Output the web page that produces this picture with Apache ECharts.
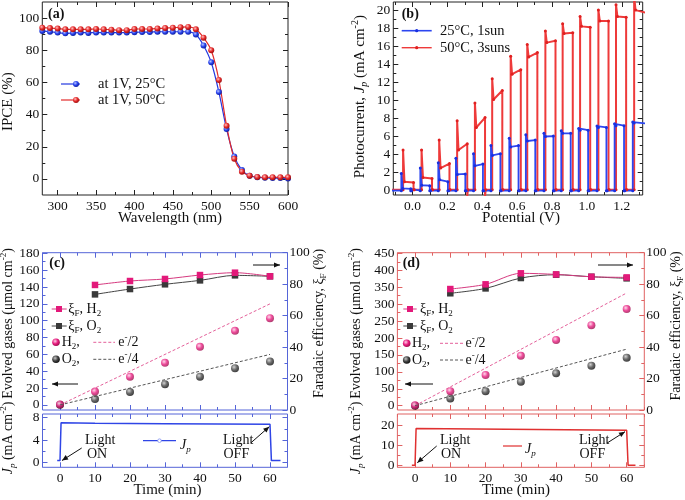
<!DOCTYPE html>
<html><head><meta charset="utf-8">
<script src="https://cdn.jsdelivr.net/npm/echarts@6/dist/echarts.min.js"></script>
<style>html,body{margin:0;padding:0;background:#fff}#c{width:685px;height:500px}</style>
</head><body><div id="c"></div>
<script>
// ---------- (a) IPCE ----------
const wavelength = [280,290,300,310,320,330,340,350,360,370,380,390,400,410,420,430,440,450,460,470,480,490,500,510,520,530,540,550,560,570,580,590,600];
const ipce25C = [92,91.5,91,90.5,90.8,91,90.8,91,91,91,91,91,91.2,91.3,91.3,91.5,91.5,91.5,91.5,91.5,89.8,83,72.5,54,31,14,5.5,2,1,0.7,0.5,0.5,0.3];
const ipce50C = [94,93.8,93.5,93,93,93,93,93.2,93,92.8,92.5,92.5,93.2,93.2,93.2,93.5,93.8,94,94.3,94.5,93,87.8,80,61.5,33,12.5,4.5,2,1.2,1,1,1,1];
const aXTicks = [300,350,400,450,500,550,600];
const aXMinor = [325,375,425,475,525,575];
const aYTicks = [0,20,40,60,80,100];
const aYMinor = [10,30,50,70,90];

// ---------- (b) chopped photocurrent ----------
const redOn    = [-0.054,0.052,0.153,0.256,0.358,0.457,0.563,0.658,0.762,0.861,0.961,1.066,1.167,1.271];
const redOff   = [0.006,0.112,0.212,0.314,0.416,0.515,0.621,0.716,0.820,0.919,1.019,1.124,1.225,1.340];
const redSpike = [4.5,4.5,5.6,7.75,9.7,12.4,14.9,16.2,17.7,18.5,19.3,20.0,20.6,21.5];
const redDip   = [1.0,1.45,2.5,4.5,7.0,10.1,12.9,14.8,16.4,17.4,18.2,18.8,19.3,20.0];
const redEnd   = [0.9,1.35,3.0,5.2,8.1,11.1,13.4,15.3,16.6,17.5,18.1,18.8,19.2,19.7];
const redDark  = [0.1,0.1,0.1,0.1,0.1,0.1,0.1,0.1,0.1,0.1,0.1,0.1,0.1,0.1];
const redOffLow= [0.1,0.1,0.1,-0.6,-0.6,0.1,0.1,0.1,0.1,0.1,0.1,0.1,0.1,0.1];
const blueOn   = [-0.064,0.045,0.148,0.249,0.350,0.450,0.555,0.650,0.754,0.853,0.953,1.058,1.159,1.263];
const blueOff  = [-0.010,0.099,0.203,0.303,0.404,0.504,0.608,0.704,0.808,0.907,1.007,1.112,1.213,1.340];
const blueSpike= [1.9,2.5,3.1,3.6,4.1,5.0,5.8,6.2,6.35,6.65,6.9,7.15,7.4,7.6];
const blueDip  = [0.25,0.6,1.2,1.8,2.75,3.9,4.85,5.5,6.0,6.35,6.7,7.0,7.2,7.5];
const blueEnd  = [0.2,0.55,1.0,1.85,2.95,4.1,5.0,5.6,6.05,6.35,6.7,7.0,7.2,7.45];
const blueDark = [0,0,0,0,0,0,0,0,0,0,0,0,0,0];
const bXTicks = [0,0.2,0.4,0.6,0.8,1.0,1.2];
const bXMinor = [-0.1,0.1,0.3,0.5,0.7,0.9,1.1,1.3];
const bYTicks = [0,2,4,6,8,10,12,14,16,18,20];
const bYMinor = [1,3,5,7,9,11,13,15,17,19];

// ---------- (c) 25°C 1 sun ----------
const cTime = [0,10,20,30,40,50,60];
const cH2 = [0.5,16,33.5,50,69,88,103];
const cO2 = [0.3,7,15.5,24.5,33.5,43.5,51.5];
const cFeTime = [10,20,30,40,50,60];
const cFeH2 = [79.5,82,83.3,85.8,87.3,85];
const cFeO2 = [73.5,76.9,79.9,82.4,85.6,85];
const cTheoTime = [0,60];
const cTheoH2 = [0,120];
const cTheoO2 = [0,60];
const cJpTime = [-0.8,0,0.3,10,30,60,60.4,63];
const cJp = [0.3,0.3,7.1,7.0,6.9,6.8,0.3,0.3];
const cLeftTicks = [0,20,40,60,80,100,120,140,160,180];
const cLeftMinor = [10,30,50,70,90,110,130,150,170];
const cRightTicks = [0,20,40,60,80,100];
const cRightMinor = [10,30,50,70,90];
const cJpTicks = [0,4,8];
const cJpMinor = [2,6];

// ---------- (d) 50°C 3 suns ----------
const dTime = [0,10,20,30,40,50,60];
const dH2 = [1,43,90.5,147.5,194,238,285.5];
const dO2 = [0,21.5,43,71,95.5,118,141.8];
const dFeTime = [10,20,30,40,50,60];
const dFeH2 = [76.9,79.9,86.9,86.2,84.7,84.3];
const dFeO2 = [74.2,77.3,83.9,86.0,84.7,83.7];
const dTheoTime = [0,60];
const dTheoH2 = [0,333];
const dTheoO2 = [0,167];
const dJpTime = [-0.9,0,0.3,60,60.4,62.5];
const dJp = [0,0,18.3,17.4,0,0];
const dLeftTicks = [0,50,100,150,200,250,300,350,400,450];
const dLeftMinor = [25,75,125,175,225,275,325,375,425];
const dRightTicks = [0,20,40,60,80,100];
const dRightMinor = [10,30,50,70,90];
const dJpTicks = [0,10,20];
const dJpMinor = [5,15];

const timeTicks = [0,10,20,30,40,50,60];
const timeMinor = [-5,5,15,25,35,45,55,65];

// ---------- build ----------
const F = '"Liberation Serif","DejaVu Serif",serif';
const pair = (xs, ys) => xs.map((x, i) => [x, ys[i]]);
function chop(on, off, spike, dip, end, dark, offLow) {
  const pts = [[-0.12, dark[0]]];
  for (let k = 0; k < on.length; k++) {
    pts.push([on[k], dark[k]]);
    pts.push([on[k], spike[k]]);
    pts.push([on[k] + 0.008, dip[k]]);
    pts.push([off[k], end[k]]);
    pts.push([off[k], offLow[k]]);
    pts.push([off[k] + 0.004, dark[k]]);
  }
  return pts;
}

const BLUE = '#2238e0', RED = '#e22a2a', MAG = '#e3197a', DARK = '#3a3a3a';
const CFRAME = '#5565d8', DFRAME = '#e06262';

const grids = [
  {left: 42.3, top: 2, width: 245.7, height: 193},   // a
  {left: 393.3, top: 2, width: 249.4, height: 193},  // b
  {left: 42.5, top: 252.7, width: 245, height: 157.3}, // c top
  {left: 42.5, top: 414, width: 245, height: 53.3},  // c bottom
  {left: 397.4, top: 252.7, width: 246.9, height: 157.3}, // d top
  {left: 397.4, top: 414, width: 246.9, height: 53.3}  // d bottom
].map((g, i) => Object.assign(g, {
  show: true, backgroundColor: 'transparent', borderWidth: 1,
  borderColor: i < 2 ? '#222' : (i < 4 ? CFRAME : DFRAME),
  containLabel: false, outerBoundsMode: 'none'
}));

const xAxes = [], yAxes = [];
function axisSet(list, grid, min, max, major, minor, pos, mirror, color, showLabels, fmt, margin) {
  const base = {type: 'value', gridIndex: grid, min, max, splitLine: {show: false},
    axisLine: {show: false, onZero: false}};
  const lab = {show: showLabels, customValues: major, color: '#111', fontSize: 13.5, fontFamily: F,
    margin: margin, formatter: fmt || (v => String(v))};
  list.push(Object.assign({}, base, {position: pos,
    axisTick: {show: true, inside: true, length: 5, customValues: major, lineStyle: {color, width: 1}},
    axisLabel: lab}));
  const main = list.length - 1;
  list.push(Object.assign({}, base, {position: pos,
    axisTick: {show: true, inside: true, length: 3, customValues: minor, lineStyle: {color, width: 1}},
    axisLabel: {show: false}}));
  if (mirror) {
    list.push(Object.assign({}, base, {position: mirror,
      axisTick: {show: true, inside: true, length: 5, customValues: major, lineStyle: {color, width: 1}},
      axisLabel: {show: false}}));
    list.push(Object.assign({}, base, {position: mirror,
      axisTick: {show: true, inside: true, length: 3, customValues: minor, lineStyle: {color, width: 1}},
      axisLabel: {show: false}}));
  }
  return main;
}

const axA = axisSet(xAxes, 0, 280, 600, aXTicks, aXMinor, 'bottom', 'top', '#222', true, null, 4);
const ayA = axisSet(yAxes, 0, -10, 110, aYTicks, aYMinor, 'left', 'right', '#222', true, null, 3);
const axB = axisSet(xAxes, 1, -0.11, 1.32, bXTicks, bXMinor, 'bottom', 'top', '#222', true, v => v.toFixed(1), 4);
const ayB = axisSet(yAxes, 1, -0.48, 20.9, bYTicks, bYMinor, 'left', 'right', '#222', true, null, 3);
const axC = axisSet(xAxes, 2, -5, 65, timeTicks, timeMinor, 'bottom', 'top', CFRAME, false, null, 4);
const ayC = axisSet(yAxes, 2, -6, 180.7, cLeftTicks, cLeftMinor, 'left', null, CFRAME, true, null, 3);
const ayCr = axisSet(yAxes, 2, 0, 100, cRightTicks, cRightMinor, 'right', null, CFRAME, true, null, 2);
const axC2 = axisSet(xAxes, 3, -5, 65, timeTicks, timeMinor, 'bottom', 'top', CFRAME, true, null, 4);
const ayC2 = axisSet(yAxes, 3, -0.9, 8.66, cJpTicks, cJpMinor, 'left', 'right', CFRAME, true, null, 3);
const axD = axisSet(xAxes, 4, -5, 65, timeTicks, timeMinor, 'bottom', 'top', DFRAME, false, null, 4);
const ayD = axisSet(yAxes, 4, -12.7, 452, dLeftTicks, dLeftMinor, 'left', null, DFRAME, true, null, 3);
const ayDr = axisSet(yAxes, 4, 0, 100, dRightTicks, dRightMinor, 'right', null, DFRAME, true, null, 2);
const axD2 = axisSet(xAxes, 5, -5, 65, timeTicks, timeMinor, 'bottom', 'top', DFRAME, true, null, 4);
const ayD2 = axisSet(yAxes, 5, -1, 25.5, dJpTicks, dJpMinor, 'left', 'right', DFRAME, true, null, 3);

const sphere = (c0, c1, c2) => ({type: 'radial', x: 0.38, y: 0.35, r: 0.65,
  colorStops: [{offset: 0, color: c0}, {offset: 0.55, color: c1}, {offset: 1, color: c2}]});
const blueBall = sphere('#b8c4ff', '#2a44ee', '#1020a0');
const redBall = sphere('#ffc0c0', '#e62a2a', '#a01010');
const magBall = sphere('#ffd0e6', '#e81c80', '#a0104f');
const darkBall = sphere('#c8c8c8', '#444444', '#111111');

const series = [
  {type: 'line', xAxisIndex: axA, yAxisIndex: ayA, data: pair(wavelength, ipce25C), smooth: 0.25,
    symbol: 'circle', symbolSize: 6, lineStyle: {color: BLUE, width: 1.2}, itemStyle: {color: blueBall}},
  {type: 'line', xAxisIndex: axA, yAxisIndex: ayA, data: pair(wavelength, ipce50C), smooth: 0.25,
    symbol: 'circle', symbolSize: 6, lineStyle: {color: RED, width: 1.2}, itemStyle: {color: redBall}},
  {type: 'line', xAxisIndex: axB, yAxisIndex: ayB, data: chop(redOn, redOff, redSpike, redDip, redEnd, redDark, redOffLow),
    symbol: 'circle', symbolSize: 3, lineStyle: {color: '#ee3a3a', width: 2, join: 'round', cap: 'round'},
    itemStyle: {color: '#e02020', borderWidth: 0}, emphasis: {disabled: true}},
  {type: 'line', xAxisIndex: axB, yAxisIndex: ayB, data: chop(blueOn, blueOff, blueSpike, blueDip, blueEnd, blueDark, blueDark),
    symbol: 'circle', symbolSize: 3, lineStyle: {color: '#2c46f0', width: 1.8, join: 'round', cap: 'round'},
    itemStyle: {color: '#1a30e0', borderWidth: 0}, emphasis: {disabled: true}},
  // (c)
  {type: 'line', xAxisIndex: axC, yAxisIndex: ayC, data: pair(cTheoTime, cTheoH2), symbol: 'none',
    lineStyle: {color: '#e4609a', width: 1, type: [3, 2]}},
  {type: 'line', xAxisIndex: axC, yAxisIndex: ayC, data: pair(cTheoTime, cTheoO2), symbol: 'none',
    lineStyle: {color: '#555', width: 1, type: [3, 2]}},
  {type: 'scatter', xAxisIndex: axC, yAxisIndex: ayC, data: pair(cTime, cO2), symbolSize: 8, itemStyle: {color: darkBall}},
  {type: 'scatter', xAxisIndex: axC, yAxisIndex: ayC, data: pair(cTime, cH2), symbolSize: 8, itemStyle: {color: magBall}},
  {type: 'line', xAxisIndex: axC, yAxisIndex: ayCr, data: pair(cFeTime, cFeO2), smooth: 0.3, symbol: 'rect', symbolSize: 6.5,
    lineStyle: {color: '#444', width: 1}, itemStyle: {color: DARK}},
  {type: 'line', xAxisIndex: axC, yAxisIndex: ayCr, data: pair(cFeTime, cFeH2), smooth: 0.3, symbol: 'rect', symbolSize: 6.5,
    lineStyle: {color: '#d63a80', width: 1}, itemStyle: {color: MAG}},
  {type: 'line', xAxisIndex: axC2, yAxisIndex: ayC2, data: pair(cJpTime, cJp), symbol: 'none',
    lineStyle: {color: '#2f45e6', width: 1.5}},
  // (d)
  {type: 'line', xAxisIndex: axD, yAxisIndex: ayD, data: pair(dTheoTime, dTheoH2), symbol: 'none',
    lineStyle: {color: '#e4609a', width: 1, type: [3, 2]}},
  {type: 'line', xAxisIndex: axD, yAxisIndex: ayD, data: pair(dTheoTime, dTheoO2), symbol: 'none',
    lineStyle: {color: '#555', width: 1, type: [3, 2]}},
  {type: 'scatter', xAxisIndex: axD, yAxisIndex: ayD, data: pair(dTime, dO2), symbolSize: 8, itemStyle: {color: darkBall}},
  {type: 'scatter', xAxisIndex: axD, yAxisIndex: ayD, data: pair(dTime, dH2), symbolSize: 8, itemStyle: {color: magBall}},
  {type: 'line', xAxisIndex: axD, yAxisIndex: ayDr, data: pair(dFeTime, dFeO2), smooth: 0.3, symbol: 'rect', symbolSize: 6.5,
    lineStyle: {color: '#444', width: 1}, itemStyle: {color: DARK}},
  {type: 'line', xAxisIndex: axD, yAxisIndex: ayDr, data: pair(dFeTime, dFeH2), smooth: 0.3, symbol: 'rect', symbolSize: 6.5,
    lineStyle: {color: '#d63a80', width: 1}, itemStyle: {color: MAG}},
  {type: 'line', xAxisIndex: axD2, yAxisIndex: ayD2, data: pair(dJpTime, dJp), symbol: 'none',
    lineStyle: {color: '#e03030', width: 1.5}}
].map(s => Object.assign({animation: false, silent: true}, s));

// ---------- graphic text, legends, arrows ----------
const rich = (fs) => ({
  m: {fontSize: fs, fontFamily: F, lineHeight: fs + 4, color: '#111'},
  i: {fontSize: fs, fontFamily: F, fontStyle: 'italic', lineHeight: fs + 4, color: '#111'},
  s: {fontSize: fs - 5, fontFamily: F, lineHeight: fs - 5, verticalAlign: 'bottom', color: '#111'},
  si: {fontSize: fs - 5, fontFamily: F, fontStyle: 'italic', lineHeight: fs - 5, verticalAlign: 'bottom', color: '#111'},
  u: {fontSize: fs - 5, fontFamily: F, lineHeight: fs - 5, verticalAlign: 'top', color: '#111'}
});
const gfx = [];
function txt(x, y, text, o) {
  o = o || {};
  const fs = o.fs || 14;
  gfx.push({type: 'text', x, y, rotation: o.rot || 0, z: 100, silent: true,
    style: {text, fontFamily: F, fontSize: fs, fontWeight: o.bold ? 'bold' : 'normal', fill: '#111',
      align: o.align || 'left', verticalAlign: 'middle', textAlign: o.align || 'left', textVerticalAlign: 'middle',
      rich: rich(fs)}});
}
function seg(x1, y1, x2, y2, color, w, dash) {
  gfx.push({type: 'line', z: 100, silent: true, shape: {x1, y1, x2, y2},
    style: {stroke: color, lineWidth: w || 1, lineDash: dash || null}});
}
function dot(cx, cy, r, fill) {
  gfx.push({type: 'circle', z: 101, silent: true, shape: {cx, cy, r}, style: {fill}});
}
function sq(cx, cy, s, fill) {
  gfx.push({type: 'rect', z: 101, silent: true, shape: {x: cx - s / 2, y: cy - s / 2, width: s, height: s}, style: {fill}});
}
function arrow(x1, y1, x2, y2, color) {
  seg(x1, y1, x2, y2, color || '#111', 1);
  const a = Math.atan2(y2 - y1, x2 - x1), L = 6, W = 2.6;
  const bx = x2 - L * Math.cos(a), by = y2 - L * Math.sin(a);
  gfx.push({type: 'polygon', z: 101, silent: true, shape: {points: [[x2, y2],
    [bx + W * Math.sin(a), by - W * Math.cos(a)], [bx - W * Math.sin(a), by + W * Math.cos(a)]]},
    style: {fill: color || '#111'}});
}
const g = (c0, c1, c2) => new echarts.graphic.RadialGradient(0.38, 0.35, 0.65,
  [{offset: 0, color: c0}, {offset: 0.55, color: c1}, {offset: 1, color: c2}]);

// panel (a)
txt(48, 14, '(a)', {bold: true, fs: 14});
seg(61, 84, 80, 84, BLUE, 1.2); dot(76, 84, 3, g('#b8c4ff', '#2a44ee', '#1020a0'));
txt(98, 84, 'at 1V, 25°C', {fs: 14.5});
seg(61, 100, 80, 100, RED, 1.2); dot(76, 100, 3, g('#ffc0c0', '#e62a2a', '#a01010'));
txt(98, 100, 'at 1V, 50°C', {fs: 14.5});
txt(8.5, 101.7, 'IPCE (%)', {rot: Math.PI / 2, align: 'center', fs: 15});
txt(170, 218.5, 'Wavelength (nm)', {align: 'center', fs: 15});
// panel (b)
txt(401.7, 14, '(b)', {bold: true, fs: 14});
seg(401.7, 30.7, 431.7, 30.7, '#2c46f0', 1.6); dot(416.7, 30.7, 1.6, '#1a30e0');
txt(440, 30.7, '25°C, 1sun', {fs: 14.5});
seg(401.7, 47.7, 431.7, 47.7, '#ee3a3a', 1.4); dot(416.7, 47.7, 1.6, '#e02020');
txt(440, 47.7, '50°C, 3suns', {fs: 14.5});
txt(360, 96.7, '{m|Photocurrent, }{i|J}{si|p}{m| (mA cm}{u|-2}{m|)}', {rot: Math.PI / 2, align: 'center', fs: 15});
txt(521, 218.5, 'Potential (V)', {align: 'center', fs: 15});
// panel (c)
txt(49.3, 263.3, '(c)', {bold: true, fs: 14});
seg(51.7, 309, 66.7, 309, '#d63a80', 1); sq(59, 309, 6, MAG);
txt(68.3, 309, '{m|ξ}{s|F}{m|, H}{s|2}');
seg(51.7, 326, 66.7, 326, '#444', 1); sq(59, 326, 6, DARK);
txt(68.3, 326, '{m|ξ}{s|F}{m|, O}{s|2}');
dot(56, 342.3, 3.8, g('#ffd0e6', '#e81c80', '#a0104f'));
txt(61.7, 342.3, '{m|H}{s|2}{m|,}');
seg(93.3, 342.3, 115, 342.3, '#e4609a', 1, [3, 2]);
txt(118.3, 342.3, '{m|e}{u|-}{m|/2}');
dot(56, 359.3, 3.8, g('#c8c8c8', '#444444', '#111111'));
txt(61.7, 359.3, '{m|O}{s|2}{m|,}');
seg(93.3, 359.3, 115, 359.3, '#555', 1, [3, 2]);
txt(118.3, 359.3, '{m|e}{u|-}{m|/4}');
arrow(78, 384, 52, 384);
arrow(253, 265, 280, 265);
txt(8.5, 323.5, '{m|Evolved gases (μmol cm}{u|-2}{m|)}', {rot: Math.PI / 2, align: 'center', fs: 14});
txt(319.5, 323.5, '{m|Faradaic efficiency, ξ}{s|F}{m| (%)}', {rot: Math.PI / 2, align: 'center', fs: 14});
txt(8.5, 438, '{i|J}{si|p}{m| (mA cm}{u|-2}{m|)}', {rot: Math.PI / 2, align: 'center', fs: 14});
txt(167.5, 490, 'Time (min)', {align: 'center', fs: 15});
txt(85, 440.7, 'Light'); txt(87, 454.5, 'ON');
arrow(81.7, 448, 62, 460.5);
txt(223, 440.7, 'Light'); txt(223.5, 454.5, 'OFF');
arrow(250.7, 443, 269.3, 426.7);
seg(143, 440.7, 176, 440.7, '#2f45e6', 1.2);
gfx.push({type: 'circle', z: 102, silent: true, shape: {cx: 159.5, cy: 440.7, r: 1.8}, style: {fill: '#fff', stroke: '#8090f0', lineWidth: 0.8}});
txt(180, 445, '{i|J}{si|p}');
// panel (d)
txt(402.7, 263.3, '(d)', {bold: true, fs: 14});
seg(403.3, 309, 416.7, 309, '#d63a80', 1); sq(410, 309, 6, MAG);
txt(420, 309, '{m|ξ}{s|F}{m|, H}{s|2}');
seg(403.3, 326, 416.7, 326, '#444', 1); sq(410, 326, 6, DARK);
txt(420, 326, '{m|ξ}{s|F}{m|, O}{s|2}');
dot(406.7, 343.3, 3.8, g('#ffd0e6', '#e81c80', '#a0104f'));
txt(412, 343.3, '{m|H}{s|2}{m|,}');
seg(440, 343.3, 463.3, 343.3, '#e4609a', 1, [3, 2]);
txt(465.5, 343.3, '{m|e}{u|-}{m|/2}');
dot(406.7, 360, 3.8, g('#c8c8c8', '#444444', '#111111'));
txt(412, 360, '{m|O}{s|2}{m|,}');
seg(440, 360, 463.3, 360, '#555', 1, [3, 2]);
txt(465.5, 360, '{m|e}{u|-}{m|/4}');
arrow(433, 384, 405, 384);
arrow(598, 265, 633, 265);
txt(356.5, 323.5, '{m|Evolved gases (μmol cm}{u|-2}{m|)}', {rot: Math.PI / 2, align: 'center', fs: 14});
txt(676.5, 326, '{m|Faradaic efficiency, ξ}{s|F}{m| (%)}', {rot: Math.PI / 2, align: 'center', fs: 14});
txt(356.5, 438, '{i|J}{si|p}{m| (mA cm}{u|-2}{m|)}', {rot: Math.PI / 2, align: 'center', fs: 14});
txt(516, 490, 'Time (min)', {align: 'center', fs: 15});
txt(440, 440.7, 'Light'); txt(441, 454.5, 'ON');
arrow(436.7, 446, 417.3, 462.7);
txt(579, 440.7, 'Light'); txt(579.5, 454.5, 'OFF');
arrow(606.7, 443.3, 625, 431.7);
seg(503, 446, 522, 446, '#e03030', 1.2);
txt(525, 449, '{i|J}{si|p}');

const chart = echarts.init(document.getElementById('c'), null, {renderer: 'canvas'});
chart.setOption({
  animation: false,
  backgroundColor: '#fff',
  textStyle: {fontFamily: F},
  grid: grids,
  xAxis: xAxes,
  yAxis: yAxes,
  series: series,
  graphic: {elements: gfx}
});
</script>
</body></html>
